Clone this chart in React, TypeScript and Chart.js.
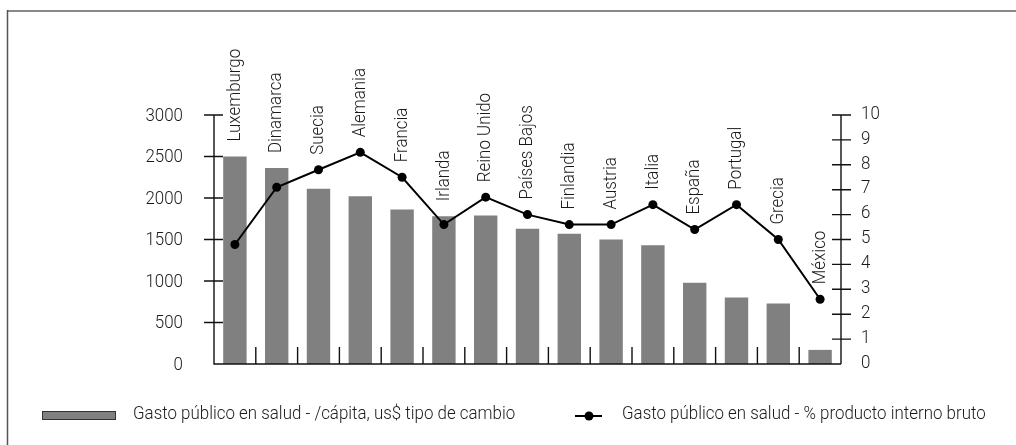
import React, { useEffect, useRef } from "react";
import { Chart, registerables } from "chart.js";

Chart.register(...registerables);

const categories = [
  "Luxemburgo", "Dinamarca", "Suecia", "Alemania", "Francia", "Irlanda", "Reino Unido",
  "Países Bajos", "Finlandia", "Austria", "Italia", "España", "Portugal", "Grecia", "México",
];
const gastoPerCapita = [2500, 2360, 2110, 2020, 1860, 1780, 1790, 1630, 1570, 1500, 1430, 980, 800, 730, 170];
const gastoPctPIB = [4.8, 7.1, 7.8, 8.5, 7.5, 5.6, 6.7, 6.0, 5.6, 5.6, 6.4, 5.4, 6.4, 5.0, 2.6];
const barLabel = "Gasto público en salud - /cápita, us$ tipo de cambio";
const lineLabel = "Gasto público en salud - % producto interno bruto";

const FONT = "Roboto, 'Liberation Sans', sans-serif";
const WEIGHT = "300";
const SX = 0.89; // horizontal condensing of the face
const TEXT = "#1a1a1a";
const W = 1016;
const H = 445;

function txt(ctx: any, s: string, x: number, y: number, size: number, align: string, rot = 0) {
  ctx.save();
  ctx.font = `${WEIGHT} ${size}px ${FONT}`;
  ctx.fillStyle = TEXT;
  ctx.textAlign = align;
  ctx.textBaseline = "middle";
  ctx.translate(x, y);
  if (rot) ctx.rotate(rot);
  ctx.scale(SX, 1);
  ctx.fillText(s, 0, 0);
  ctx.restore();
}

const decor = {
  id: "decor",
  beforeDraw(chart: any) {
    const ctx = chart.ctx;
    ctx.save();
    ctx.fillStyle = "#fff";
    ctx.fillRect(0, 0, W, H);
    ctx.strokeStyle = "#888";
    ctx.lineWidth = 2;
    ctx.beginPath();
    ctx.moveTo(7, 11);
    ctx.lineTo(W, 11);
    ctx.stroke();
    ctx.strokeStyle = "#555";
    ctx.lineWidth = 1.5;
    ctx.beginPath();
    ctx.moveTo(7.5, 10);
    ctx.lineTo(7.5, H);
    ctx.stroke();
    ctx.restore();
  },
  afterDraw(chart: any) {
    const ctx = chart.ctx;
    const xs = chart.scales.x;
    const y = chart.scales.y;
    const y1 = chart.scales.y1;
    const area = chart.chartArea;
    const left = area.left;
    const right = area.right;
    const base = y.getPixelForValue(0);
    ctx.save();
    ctx.strokeStyle = "#111";
    ctx.lineWidth = 1.4;
    ctx.beginPath();
    ctx.moveTo(left, y.getPixelForValue(y.max));
    ctx.lineTo(left, base);
    ctx.lineTo(right, base);
    ctx.moveTo(right, y1.getPixelForValue(y1.max));
    ctx.lineTo(right, base);
    ctx.stroke();
    ctx.beginPath();
    y.ticks.forEach((t: any) => {
      if (t.value === 0) return;
      const p = y.getPixelForValue(t.value);
      ctx.moveTo(left - 10, p);
      ctx.lineTo(left + 9, p);
    });
    y1.ticks.forEach((t: any) => {
      if (t.value === 0) return;
      const p = y1.getPixelForValue(t.value);
      ctx.moveTo(right - 9, p);
      ctx.lineTo(right + 10, p);
    });
    for (let i = 1; i < categories.length; i++) {
      const bx = (xs.getPixelForValue(i - 1) + xs.getPixelForValue(i)) / 2;
      ctx.moveTo(bx, base);
      ctx.lineTo(bx, base - 17);
    }
    ctx.stroke();
    ctx.restore();

    // axis tick labels
    y.ticks.forEach((t: any) => {
      txt(ctx, String(t.value), left - 31, y.getPixelForValue(t.value) + 1, 19, "right");
    });
    y1.ticks.forEach((t: any) => {
      txt(ctx, String(t.value), right + 20, y1.getPixelForValue(t.value) - 1, 19, "left");
    });

    // category labels
    categories.forEach((c, i) => {
      const x = xs.getPixelForValue(i);
      const top = Math.min(y.getPixelForValue(gastoPerCapita[i]), y1.getPixelForValue(gastoPctPIB[i]));
      txt(ctx, c, x, top - 15, 19, "left", -Math.PI / 2);
    });

    // legend
    const ds = chart.data.datasets;
    ctx.save();
    ctx.fillStyle = "#808080";
    ctx.fillRect(42, 411, 74, 9);
    ctx.strokeStyle = "#333";
    ctx.lineWidth = 1;
    ctx.strokeRect(42.5, 411.5, 73, 8);
    ctx.strokeStyle = "#000";
    ctx.lineWidth = 2;
    ctx.beginPath();
    ctx.moveTo(575, 416);
    ctx.lineTo(602, 416);
    ctx.stroke();
    ctx.fillStyle = "#000";
    ctx.beginPath();
    ctx.arc(589, 416, 4.5, 0, Math.PI * 2);
    ctx.fill();
    ctx.restore();
    txt(ctx, ds[1].label, 133, 414.5, 19, "left");
    txt(ctx, ds[0].label, 622, 414.5, 19, "left");
  },
};

export default function App() {
  const ref = useRef<HTMLCanvasElement | null>(null);
  useEffect(() => {
    const canvas = ref.current;
    if (!canvas) return;
    const chart = new Chart(canvas, {
      type: "bar",
      data: {
        labels: categories,
        datasets: [
          {
            type: "line",
            label: lineLabel,
            data: gastoPctPIB,
            yAxisID: "y1",
            borderColor: "#000",
            backgroundColor: "#000",
            borderWidth: 2,
            pointRadius: 4.5,
            pointBackgroundColor: "#000",
            pointBorderWidth: 0,
            tension: 0,
            order: 0,
          } as any,
          {
            type: "bar",
            label: barLabel,
            data: gastoPerCapita,
            yAxisID: "y",
            backgroundColor: "#808080",
            borderWidth: 0,
            categoryPercentage: 1,
            barPercentage: 0.56,
            order: 1,
          },
        ],
      },
      options: {
        responsive: false,
        animation: false,
        devicePixelRatio: 1,
        layout: { padding: { top: 115, bottom: 81, left: 0, right: 0 } },
        plugins: { legend: { display: false }, tooltip: { enabled: false } },
        scales: {
          x: { display: false, offset: true },
          y: {
            position: "left",
            min: 0,
            max: 3000,
            ticks: { stepSize: 500, display: false },
            grid: { display: false, drawTicks: false },
            border: { display: false },
            afterFit: (s: any) => {
              s.width = 214;
            },
          },
          y1: {
            position: "right",
            min: 0,
            max: 10,
            ticks: { stepSize: 1, display: false },
            grid: { display: false, drawTicks: false },
            border: { display: false },
            afterFit: (s: any) => {
              s.width = W - 841;
            },
          },
        },
      },
      plugins: [decor],
    });
    return () => chart.destroy();
  }, []);
  return (
    <div style={{ position: "absolute", left: 0, top: 0, width: W, height: H, background: "#fff" }}>
      <canvas ref={ref} width={W} height={H} style={{ width: W, height: H, display: "block" }} />
    </div>
  );
}
